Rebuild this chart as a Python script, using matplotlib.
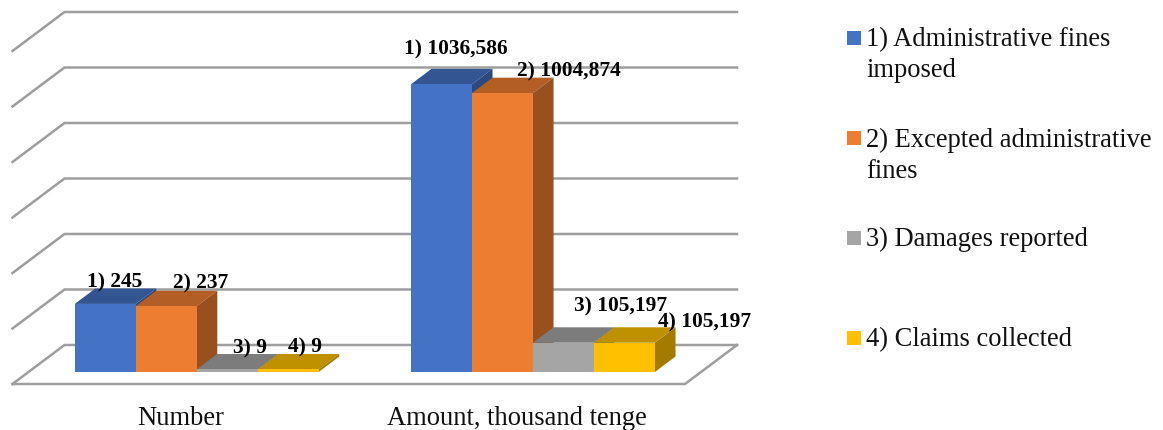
import numpy as np
import matplotlib
matplotlib.use('Agg')
import matplotlib.pyplot as plt
from matplotlib.colors import to_rgb
from matplotlib.patches import Rectangle

categories = ['Number', 'Amount, thousand tenge']
series_names = ['1) Administrative fines\nimposed', '2) Excepted administrative\nfines',
                '3) Damages reported', '4) Claims collected']
series_values = [[245, 1036.586],
                 [237, 1004.874],
                 [9, 105.197],
                 [9, 105.197]]
label_texts = [['1) 245', '1) 1036,586'],
               ['2) 237', '2) 1004,874'],
               ['3) 9', '3) 105,197'],
               ['4) 9', '4) 105,197']]
colors = ['#4472C4', '#ED7D31', '#A5A5A5', '#FFC000']
y_ticks = [0, 200, 400, 600, 800, 1000, 1200]

W, H = 1163, 430
plt.rcParams['font.family'] = ['Liberation Serif', 'DejaVu Serif']
fig = plt.figure(figsize=(W / 100, H / 100), dpi=100)
# axes box = front edge of the floor and height of the walls, in pixels
ax = fig.add_axes([12.5 / W, (H - 384) / H, 672.5 / W, 333 / H])
ax.set_xlim(0, 2)
ax.set_ylim(0, 1200)
ax.patch.set_visible(False)
for s in ax.spines.values():
    s.set_visible(False)

# oblique depth of the floor, in data units
depth_x = 52 / 336.25
depth_y = 39 / 0.2775
bar_w = 61 / 336.25
front = 0.31    # bars start this far back on the floor
thick = 0.395   # and are this deep

grid_col = '#9e9e9e'
for t in y_ticks:
    ax.plot([0, depth_x, 2 + depth_x], [t, t + depth_y, t + depth_y], color=grid_col,
            lw=1.8, clip_on=False, solid_joinstyle='miter', zorder=1)
# front and right edge of the floor
ax.plot([0, 2, 2 + depth_x], [0, 0, depth_y], color=grid_col, lw=1.8, clip_on=False, zorder=1)


def shade(c, f):
    return tuple(np.array(to_rgb(c)) * f)


# label offsets from the top of the front face, pixels
label_offsets = [[(9, 21), (14, 35)],
                 [(34, 23), (66, 22)],
                 [(23, 21), (57, 36)],
                 [(17, 22), (80, 20)]]

ddx = thick * depth_x
ddy = thick * depth_y
for g in range(len(categories)):
    for i, c in enumerate(colors):
        v = series_values[i][g]
        x0 = g + 0.5 - 2 * bar_w + i * bar_w + front * depth_x
        x1 = x0 + bar_w
        y0 = front * depth_y
        y1 = y0 + v
        ax.fill([x0, x1, x1 + ddx, x0 + ddx], [y1, y1, y1 + ddy, y1 + ddy],
                color=shade(c, 0.75), lw=0, clip_on=False, zorder=2 + i)
        ax.fill([x1, x1 + ddx, x1 + ddx, x1], [y0, y0 + ddy, y1 + ddy, y1],
                color=shade(c, 0.64), lw=0, clip_on=False, zorder=2 + i)
        ax.bar(x0, v, width=bar_w, bottom=y0, align='edge', color=c, lw=0, clip_on=False, zorder=2 + i)
        ax.annotate(label_texts[i][g], (x0 + bar_w / 2, y1), xytext=label_offsets[i][g],
                    textcoords='offset pixels', ha='center', va='center',
                    fontsize=15.4, fontweight='bold', color='black', zorder=10)

ax.set_yticks([])
ax.set_xticks([0.5, 1.5])
ax.set_xticklabels(categories, fontsize=19.1, color='#111111')
ax.tick_params(axis='x', length=0, pad=15.5)

# legend, placed by hand since the text wraps next to the marker
legend_y = [37.7, 138.3, 238, 338]
for name, c, yc in zip(series_names, colors, legend_y):
    fig.add_artist(Rectangle((847 / W, 1 - (yc + 7) / H), 14 / W, 14 / H, color=c, lw=0,
                             transform=fig.transFigure))
    for j, line in enumerate(name.split('\n')):
        fig.text(866.5 / W, 1 - (yc + 8.5 + j * 31) / H, line, fontsize=19.1, color='#111111',
                 ha='left', va='baseline')

fig.savefig('out.png', dpi=100, facecolor='white')
